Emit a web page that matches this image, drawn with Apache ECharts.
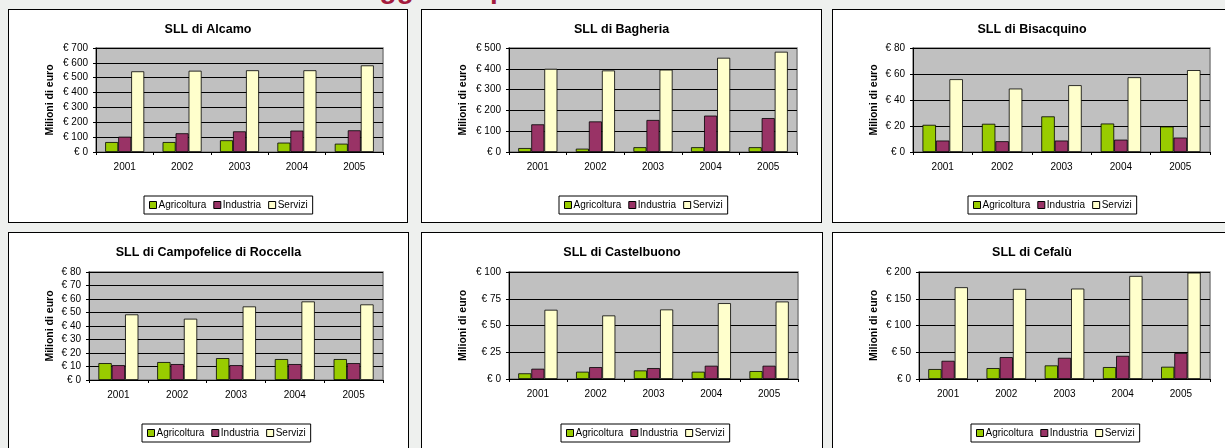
<!DOCTYPE html>
<html>
<head>
<meta charset="utf-8">
<script src="https://cdn.jsdelivr.net/npm/echarts@6/dist/echarts.min.js"></script>
<style>
html,body{margin:0;padding:0;width:1225px;height:448px;overflow:hidden;background:#eef0ee;font-family:"Liberation Sans",Arial,sans-serif;}
.panel{position:absolute;border:1px solid #000;background:#fff;overflow:hidden;}
.chart{position:absolute;left:0;top:0;}
#hdr{position:absolute;left:364px;top:-25px;font-size:28px;line-height:28px;font-weight:bold;color:#a31b3d;white-space:nowrap;}
</style>
</head>
<body>
<div id="hdr">aggiunto per</div>
<script>
// ---- data ----
const years = ['2001', '2002', '2003', '2004', '2005'];
const sectors = ['Agricoltura', 'Industria', 'Servizi'];
const titles = ['SLL di Alcamo', 'SLL di Bagheria', 'SLL di Bisacquino',
                'SLL di Campofelice di Roccella', 'SLL di Castelbuono', 'SLL di Cefalù'];
const yMax = [700, 500, 80, 80, 100, 200];
const yStep = [100, 100, 20, 10, 25, 50];

const alcamoAgricoltura = [67, 67, 79, 63, 56];
const alcamoIndustria = [103, 126, 139, 144, 146];
const alcamoServizi = [543, 547, 550, 550, 583];

const bagheriaAgricoltura = [19, 16, 23, 23, 23];
const bagheriaIndustria = [133, 147, 154, 175, 163];
const bagheriaServizi = [400, 392, 396, 453, 482];

const bisacquinoAgricoltura = [20.9, 21.7, 27.4, 21.9, 19.6];
const bisacquinoIndustria = [8.8, 8.3, 8.8, 9.5, 11.1];
const bisacquinoServizi = [56, 48.8, 51.4, 57.5, 63];

const campofeliceAgricoltura = [12.5, 13.3, 16.2, 15.5, 15.5];
const campofeliceIndustria = [11, 11.8, 11, 11.8, 12.5];
const campofeliceServizi = [48.6, 45.4, 54.5, 58.2, 56];

const castelbuonoAgricoltura = [5.3, 6.8, 8, 6.8, 7.4];
const castelbuonoIndustria = [9.6, 11.1, 10.2, 12.4, 12.4];
const castelbuonoServizi = [64.7, 59.4, 65, 70.9, 72.4];

const cefaluAgricoltura = [18.6, 20.4, 25.4, 22.3, 22.9];
const cefaluIndustria = [34, 40.9, 39.6, 43.3, 48.5];
const cefaluServizi = [171.5, 168.4, 169, 192.6, 198.8];

const panelData = [
  [alcamoAgricoltura, alcamoIndustria, alcamoServizi],
  [bagheriaAgricoltura, bagheriaIndustria, bagheriaServizi],
  [bisacquinoAgricoltura, bisacquinoIndustria, bisacquinoServizi],
  [campofeliceAgricoltura, campofeliceIndustria, campofeliceServizi],
  [castelbuonoAgricoltura, castelbuonoIndustria, castelbuonoServizi],
  [cefaluAgricoltura, cefaluIndustria, cefaluServizi]
];

// ---- layout ----
const FONT = '"Liberation Sans", Arial, sans-serif';
const colors = ['#99cc00', '#993366', '#ffffcc'];
const panels = [
  {x: 8,   y: 9,   w: 400, h: 214, gl: 87, gt: 38, gw: 287, gh: 104, lg: 135, lt: 186},
  {x: 421, y: 9,   w: 401, h: 214, gl: 87, gt: 38, gw: 288, gh: 104, lg: 137, lt: 186},
  {x: 832, y: 9,   w: 400, h: 214, gl: 80, gt: 38, gw: 297, gh: 104, lg: 135, lt: 186},
  {x: 8,   y: 232, w: 401, h: 240, gl: 80, gt: 39, gw: 294, gh: 108, lg: 133, lt: 191},
  {x: 421, y: 232, w: 402, h: 240, gl: 87, gt: 39, gw: 289, gh: 107, lg: 139, lt: 191},
  {x: 832, y: 232, w: 400, h: 240, gl: 86, gt: 39, gw: 291, gh: 107, lg: 138, lt: 191}
];

panels.forEach(function (p, i) {
  const box = document.createElement('div');
  box.className = 'panel';
  box.style.left = p.x + 'px';
  box.style.top = p.y + 'px';
  box.style.width = (p.w - 2) + 'px';
  box.style.height = (p.h - 2) + 'px';
  const c = document.createElement('div');
  c.className = 'chart';
  c.style.width = (p.w - 2) + 'px';
  c.style.height = (p.h - 2) + 'px';
  box.appendChild(c);
  document.body.appendChild(box);

  const chart = echarts.init(c, null, {renderer: 'canvas'});
  chart.setOption({
    animation: false,
    textStyle: {fontFamily: FONT},
    title: {
      text: titles[i], left: 'center', top: 13, padding: 0,
      textStyle: {fontFamily: FONT, fontSize: 12.5, fontWeight: 'bold', color: '#000'}
    },
    legend: {
      data: sectors, left: p.lg, top: p.lt, orient: 'horizontal',
      icon: 'rect', itemWidth: 7, itemHeight: 7, itemGap: 7,
      padding: [4, 5, 4, 5],
      borderColor: '#000', borderWidth: 1, backgroundColor: '#fff',
      itemStyle: {borderColor: '#000', borderWidth: 1},
      textStyle: {fontFamily: FONT, fontSize: 10, color: '#000', padding: [0, 0, 0, -3]}
    },
    grid: {
      left: p.gl, top: p.gt, width: p.gw, height: p.gh,
      show: true, backgroundColor: '#c0c0c0', borderColor: '#808080', borderWidth: 1.5
    },
    xAxis: {
      type: 'category', data: years,
      axisLine: {lineStyle: {color: '#000', width: 1}},
      axisTick: {show: true, length: 3, lineStyle: {color: '#000'}},
      axisLabel: {margin: 10, fontSize: 10, color: '#000', fontFamily: FONT},
      splitLine: {show: false}
    },
    yAxis: {
      type: 'value', min: 0, max: yMax[i], interval: yStep[i],
      name: 'Milioni di euro', nameLocation: 'middle', nameGap: p.gl - 47, nameRotate: 90,
      nameMoveOverlap: false,
      nameTextStyle: {fontFamily: FONT, fontSize: 10.5, fontWeight: 'bold', color: '#000'},
      axisLine: {show: true, lineStyle: {color: '#000', width: 1}},
      axisTick: {show: true, length: 3, lineStyle: {color: '#000'}},
      axisLabel: {margin: 8, fontSize: 10, color: '#000', fontFamily: FONT,
                  formatter: function (v) { return '€ ' + v; }},
      splitLine: {show: true, lineStyle: {color: '#000', width: 1}}
    },
    series: sectors.map(function (s, k) {
      return {
        name: s, type: 'bar', data: panelData[i][k],
        barGap: '0%', barCategoryGap: '32%',
        itemStyle: {color: colors[k], borderColor: '#000', borderWidth: 0.8}
      };
    })
  });
});
</script>
</body>
</html>
